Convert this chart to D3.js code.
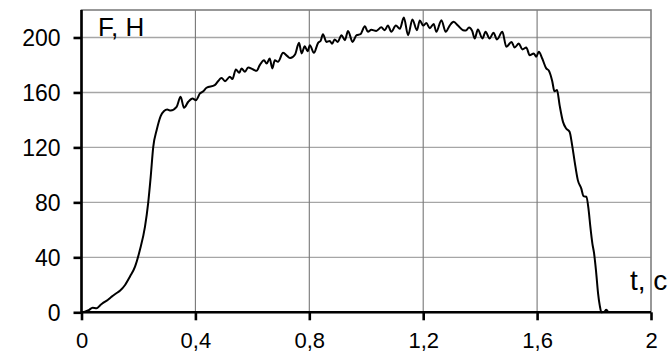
<!DOCTYPE html>
<html>
<head>
<meta charset="utf-8">
<script src="https://cdn.jsdelivr.net/npm/d3@7"></script>
<style>
  body { margin: 0; background: #fff; }
  svg { display: block; font-family: "Liberation Sans", Arial, sans-serif; }
</style>
</head>
<body>
<svg id="chart" width="672" height="353"></svg>
<script>
// time, s
const tValues = [0, 0.012, 0.025, 0.039, 0.053, 0.065, 0.077, 0.092, 0.106, 0.12, 0.135, 0.153, 0.17, 0.188,
  0.205, 0.223, 0.234, 0.243, 0.252, 0.264, 0.278, 0.29, 0.301, 0.313, 0.334, 0.348, 0.36, 0.375, 0.39, 0.402,
  0.416, 0.428, 0.439, 0.468, 0.492, 0.504, 0.521, 0.53, 0.542, 0.554, 0.562, 0.574, 0.585, 0.603, 0.615, 0.626,
  0.641, 0.65, 0.661, 0.67, 0.679, 0.69, 0.708, 0.723, 0.733, 0.75, 0.764, 0.773, 0.784, 0.794, 0.802, 0.816,
  0.831, 0.84, 0.848, 0.86, 0.872, 0.88, 0.889, 0.9, 0.913, 0.925, 0.936, 0.952, 0.966, 0.98, 0.995, 1.006,
  1.018, 1.035, 1.053, 1.065, 1.076, 1.088, 1.104, 1.118, 1.132, 1.147, 1.162, 1.178, 1.188, 1.2, 1.211, 1.223,
  1.237, 1.246, 1.264, 1.279, 1.293, 1.307, 1.322, 1.34, 1.35, 1.361, 1.372, 1.381, 1.392, 1.408, 1.419, 1.433,
  1.447, 1.459, 1.478, 1.492, 1.51, 1.521, 1.536, 1.548, 1.562, 1.574, 1.588, 1.597, 1.606, 1.618, 1.632, 1.641,
  1.653, 1.661, 1.67, 1.679, 1.691, 1.702, 1.714, 1.723, 1.732, 1.743, 1.755, 1.763, 1.773, 1.781, 1.787, 1.794,
  1.8, 1.807, 1.814, 1.82, 1.826, 1.836, 1.843, 1.85];

// force, N
const fValues = [0, 0.4, 1.5, 3.3, 2.9, 5, 7, 9, 11.4, 13.5, 15.7, 19.9, 25.9, 33.2,
  45.3, 62.3, 79.3, 98.6, 120.4, 132.6, 142.8, 146.5, 147.6, 146.8, 149.5, 156.8, 148.8, 153.2, 155.6, 154.4,
  159.3, 160.8, 163.4, 165.3, 170.6, 168.2, 171.4, 169.7, 176.7, 174.3, 177.5, 175, 178.2, 176.7, 175.7, 179.9,
  183.5, 181, 184.7, 177.5, 183.5, 182.3, 188.8, 186.4, 185, 187.6, 196.1, 188.4, 193.7, 189.9, 194.4, 188.8,
  196.1, 197.6, 202.4, 196.8, 197.5, 195.4, 198.6, 196.8, 201.7, 198, 204.8, 196.8, 201.7, 202.4, 208.2, 204.1,
  205.6, 204.8, 207.4, 205.3, 208.7, 204.1, 208.7, 206.3, 214.5, 201.7, 213.1, 205.3, 212.4, 208.7, 210.5, 206.8,
  209.9, 204.1, 212.6, 204.1, 208.7, 211.4, 208.7, 205.3, 205, 207.3, 204.8, 199.3, 205.8, 199.3, 204.1, 199.3,
  203.4, 198.6, 204.1, 193.2, 196.8, 192.7, 195.6, 191.3, 192.7, 187.1, 188.4, 186, 189.6, 184.7, 177.5, 176,
  168.4, 160.8, 161.7, 150.8, 138.6, 133.8, 131.4, 121.7, 109.5, 96.2, 90.2, 84.6, 84.1, 74.4, 62.3, 50.2,
  43, 30, 14, 5, 0, 0.3, 1.8, 0];

const xTicks = [0, 0.4, 0.8, 1.2, 1.6, 2];
const yTicks = [0, 40, 80, 120, 160, 200];

const data = tValues.map((t, i) => ({ t: t, f: fValues[i] }));
const fmt = d => String(+d.toFixed(1)).replace('.', ',');

const svg = d3.select('#chart');

const x = d3.scaleLinear().domain([0, 2]).range([81.5, 651]);
const y = d3.scaleLinear().domain([0, 220]).range([312.3, 10]);

// horizontal grid
svg.append('g')
  .selectAll('line')
  .data(yTicks.slice(1))
  .join('line')
    .attr('x1', x(0)).attr('x2', x(2))
    .attr('y1', d => y(d)).attr('y2', d => y(d))
    .attr('stroke', '#a6a6a6')
    .attr('stroke-width', 1.4);

// vertical grid
svg.append('g')
  .selectAll('line')
  .data(xTicks.slice(1, -1))
  .join('line')
    .attr('x1', d => x(d)).attr('x2', d => x(d))
    .attr('y1', y(220)).attr('y2', y(0))
    .attr('stroke', '#777')
    .attr('stroke-width', 1.1);

// frame
svg.append('rect')
  .attr('x', x(0)).attr('y', y(220))
  .attr('width', x(2) - x(0)).attr('height', y(0) - y(220))
  .attr('fill', 'none')
  .attr('stroke', '#7f7f7f')
  .attr('stroke-width', 1.6);

// axes
const xAxis = svg.append('g')
  .attr('transform', `translate(0,${y(0)})`)
  .call(d3.axisBottom(x).tickValues(xTicks).tickFormat(fmt).tickSize(8).tickPadding(12));

const yAxis = svg.append('g')
  .attr('transform', `translate(${x(0)},0)`)
  .call(d3.axisLeft(y).tickValues(yTicks).tickSize(8).tickPadding(13));

[xAxis, yAxis].forEach(a => {
  a.select('.domain').attr('stroke', '#000').attr('stroke-width', 2.6);
  a.selectAll('.tick line').attr('stroke', '#000').attr('stroke-width', 2.6);
  a.selectAll('.tick text')
    .attr('fill', '#000')
    .style('font-size', '22px')
    .style('font-family', '"Liberation Sans", Arial, sans-serif');
});
yAxis.selectAll('.tick text').style('font-size', '23px').attr('dy', '0.36em');
xAxis.select('.domain').attr('d', `M${x(0)},0H${x(2)}`);
yAxis.select('.domain').attr('d', `M0,${y(0) + 1}V${y(220)}`);

// curve
const line = d3.line()
  .x(d => x(d.t))
  .y(d => y(d.f))
  .curve(d3.curveMonotoneX);

svg.append('path')
  .datum(data)
  .attr('fill', 'none')
  .attr('stroke', '#000')
  .attr('stroke-width', 2)
  .attr('stroke-linejoin', 'round')
  .attr('d', line);

// axis titles
svg.append('text')
  .attr('x', 98).attr('y', 36)
  .style('font-size', '26px')
  .text('F, H');

svg.append('text')
  .attr('x', 630).attr('y', 290)
  .style('font-size', '28px')
  .text('t, c');
</script>
</body>
</html>
